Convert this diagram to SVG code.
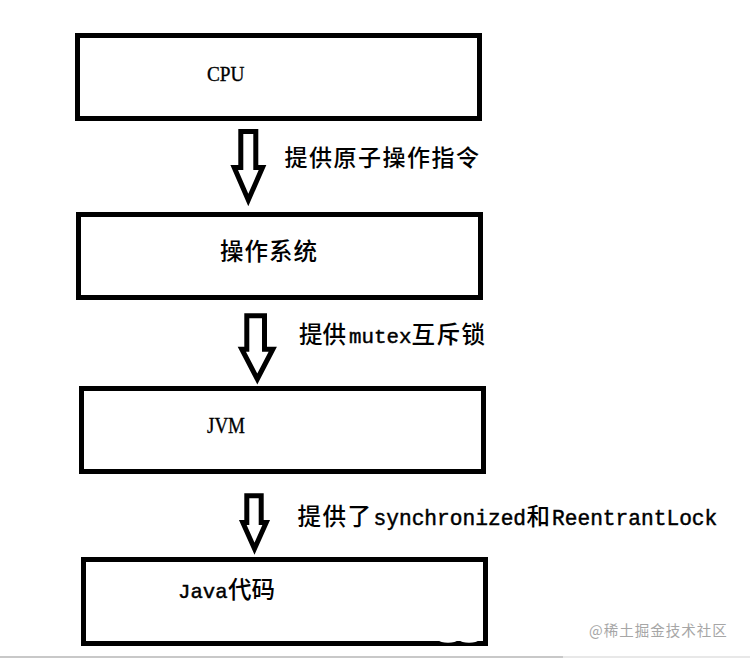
<svg xmlns="http://www.w3.org/2000/svg" width="750" height="658" viewBox="0 0 750 658">
  <style>
    .box { fill: #ffffff; stroke: #000000; stroke-width: 5; }
    .arrow { fill: #ffffff; stroke: #000000; stroke-width: 5; stroke-linejoin: miter; stroke-miterlimit: 10; }
    .latin { font-family: "Liberation Serif", "Times New Roman", serif; fill: #000; stroke: #000; stroke-width: 0.35; }
    .cjk { font-family: "Noto Sans CJK SC", sans-serif; fill: #000; font-weight: 500; }
    .mono { font-family: "Liberation Mono", "Noto Sans CJK SC", monospace; stroke: #000; stroke-width: 0.45; }
    .wm { font-family: "Noto Sans CJK SC", sans-serif; fill: #a6a6a6; font-size: 14.5px; }
  </style>
  <rect x="0" y="0" width="750" height="658" fill="#ffffff"/>

  <g id="node-cpu">
    <rect class="box" x="77.5" y="35.5" width="402" height="83"/>
    <text class="latin" x="207" y="80.7" font-size="21.5" textLength="37.5" lengthAdjust="spacingAndGlyphs">CPU</text>
  </g>

  <g id="node-os">
    <rect class="box" x="78.5" y="214.5" width="402" height="83"/>
    <text class="cjk" x="220" y="259.5" font-size="23.5" letter-spacing="1">操作系统</text>
  </g>

  <g id="node-jvm">
    <rect class="box" x="81.5" y="388.5" width="402" height="83"/>
    <text class="latin" x="207" y="433" font-size="23" textLength="38" lengthAdjust="spacingAndGlyphs">JVM</text>
  </g>

  <g id="node-java">
    <rect class="box" x="83.5" y="559.5" width="402" height="84"/>
    <text class="cjk" y="598" font-size="23.5"><tspan class="mono" x="178" font-size="20.7" font-weight="normal">Java</tspan><tspan x="228">代码</tspan></text>
    <ellipse cx="448" cy="640.5" rx="9" ry="2.2" fill="#ffffff"/>
    <ellipse cx="469" cy="640.5" rx="9" ry="2.2" fill="#ffffff"/>
  </g>

  <g id="connectors">
    <polygon class="arrow" points="240.8,131.5 255.8,131.5 255.8,167.5 262.5,167.5 248.3,200 234.2,167.5 240.8,167.5"/>
    <polygon class="arrow" points="246.8,315.8 264.5,315.8 264.5,349.2 272.8,349.2 257.3,379 241.8,349.2 246.8,349.2"/>
    <polygon class="arrow" points="246.8,495.8 261.2,495.8 261.2,522.5 266.2,522.5 254.5,548.7 242.8,522.5 246.8,522.5"/>

    <text class="cjk" x="284.5" y="166" font-size="23" letter-spacing="1.5">提供原子操作指令</text>
    <text class="cjk" y="342.5" font-size="23.5"><tspan x="299">提供</tspan><tspan class="mono" x="349" font-size="20.8" font-weight="normal">mutex</tspan><tspan x="411.5" letter-spacing="1.5">互斥锁</tspan></text>
    <text class="cjk" y="525" font-size="23.5"><tspan x="297.5" letter-spacing="1.5">提供了</tspan><tspan class="mono" x="373.5" font-size="21.2" font-weight="normal">synchronized</tspan><tspan x="526.5">和</tspan><tspan class="mono" x="552" font-size="21.2" font-weight="normal">ReentrantLock</tspan></text>
  </g>

  <text class="wm" x="589" y="636" letter-spacing="1">@稀土掘金技术社区</text>
  <rect x="0" y="656" width="563" height="2" fill="#c8c8c8"/>
  <rect x="563" y="656" width="187" height="2" fill="#e8e8e8"/>
</svg>
